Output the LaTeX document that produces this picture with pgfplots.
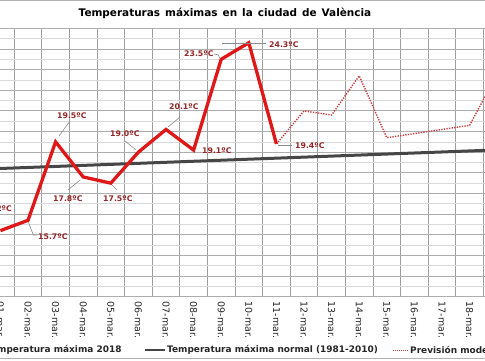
\documentclass[border=0pt]{standalone}
\usepackage{pgfplots}
\pgfplotsset{compat=1.18}
\usepackage{fontspec}
\setmainfont{DejaVu Sans}
\definecolor{redline}{RGB}{222,24,24}
\definecolor{normalc}{RGB}{70,70,70}
\definecolor{prevc}{RGB}{200,60,60}
\definecolor{labc}{RGB}{150,38,38}
\definecolor{leader}{RGB}{140,140,140}
\begin{document}
\begin{tikzpicture}[x=1bp,y=1bp]
\useasboundingbox (0,0) rectangle (485,360);
\fill[white] (0,0) rectangle (485,360);
\clip (0,0) rectangle (485,360);
\begin{axis}[
  at={(-13.4bp,63.3bp)}, anchor=south west,
  scale only axis, width=524.4bp, height=268.4bp,
  xmin=0.5, xmax=19.5, ymin=12, ymax=25,
  xtick={1,...,19},
  xticklabels={01-mar.,02-mar.,03-mar.,04-mar.,05-mar.,06-mar.,07-mar.,08-mar.,09-mar.,10-mar.,11-mar.,12-mar.,13-mar.,14-mar.,15-mar.,16-mar.,17-mar.,18-mar.,19-mar.},
  minor xtick={0.5,1.5,...,19.5},
  ytick={12,...,25}, minor ytick={12.5,13.5,...,24.5},
  yticklabels={},
  xmajorgrids=false, xminorgrids=true, ymajorgrids=true, yminorgrids=true,
  minor x grid style={black!38, line width=0.8bp},
  major y grid style={black!32, line width=0.8bp},
  minor y grid style={black!15, line width=0.6bp},
  major tick length=0pt, minor tick length=0pt,
  axis line style={draw=none},
  xticklabel style={rotate=-90, anchor=west, inner sep=0pt, text=black!85,
     font=\fontsize{9.5}{11}\selectfont},
  xticklabel shift=5bp,
  clip=true,
]
% normal 1981-2010
\addplot[normalc, line width=3bp] coordinates {
(0,18.16) (1,18.21) (2,18.26) (3,18.31) (4,18.36) (5,18.41) (6,18.46) (7,18.51)
(8,18.56) (9,18.61) (10,18.66) (11,18.71) (12,18.76) (13,18.81) (14,18.86)
(15,18.91) (16,18.96) (17,19.01) (18,19.06) (19,19.11) (20,19.16)};
% forecast
\addplot[prevc, line width=1.4bp, dash pattern=on 1.3bp off 1.3bp] coordinates {
(11,19.4) (12,21.0) (13,20.8) (14,22.7) (15,19.7) (16,19.9) (17,20.1) (18,20.3) (19,22.8)};
% 2018
\addplot[redline, line width=3.3bp, line join=miter] coordinates {
(1,15.2) (2,15.7) (3,19.5) (4,17.8) (5,17.5) (6,19.0) (7,20.1) (8,19.1) (9,23.5) (10,24.3) (11,19.4)};
% leader lines
\begin{scope}[leader, line width=0.6bp]
\draw (axis cs:2.011,15.62) -- (axis cs:2.192,14.99) -- (axis cs:2.308,14.99);
\draw (axis cs:3.123,19.78) -- (axis cs:3.522,20.51);
\draw (axis cs:3.884,17.65) -- (axis cs:3.449,17.17);
\draw (axis cs:5.043,17.41) -- (axis cs:5.225,17.17);
\draw (axis cs:5.514,19.54) -- (axis cs:5.913,19.11);
\draw (axis cs:7.072,20.22) -- (axis cs:7.507,20.70);
\draw (axis cs:8.739,23.76) -- (axis cs:8.884,23.71) -- (axis cs:8.957,23.56);
\draw (axis cs:9.043,24.29) -- (axis cs:10.623,24.29);
\draw (axis cs:11.058,19.35) -- (axis cs:11.565,19.35);
\end{scope}
\begin{scope}[every node/.style={inner sep=0pt, text=labc, font=\fontsize{7.8}{9}\selectfont\bfseries}]
\node[anchor=east] at (axis cs:1.42,16.25) {15.2ºC};
\node[anchor=west] at (axis cs:2.362,14.91) {15.7ºC};
\node[anchor=west] at (axis cs:3.051,20.77) {19.5ºC};
\node[anchor=west] at (axis cs:2.906,16.73) {17.8ºC};
\node[anchor=west] at (axis cs:4.717,16.73) {17.5ºC};
\node[anchor=west] at (axis cs:4.971,19.92) {19.0ºC};
\node[anchor=west] at (axis cs:7.109,21.20) {20.1ºC};
\node[anchor=west] at (axis cs:8.304,19.07) {19.1ºC};
\node[anchor=west] at (axis cs:7.652,23.76) {23.5ºC};
\node[anchor=west] at (axis cs:10.732,24.23) {24.3ºC};
\node[anchor=west] at (axis cs:11.674,19.31) {19.4ºC};
\end{scope}
\end{axis}
% title
\node[font=\fontsize{10.5}{12}\selectfont\bfseries, text=black] at (225,347) {\spaceskip=5bp Temperaturas máximas en la ciudad de València};
% legend
\begin{scope}[every node/.style={inner sep=0pt, anchor=west, font=\fontsize{9}{11}\selectfont\bfseries, text=black!85}]
\draw[redline, line width=2.5bp] (-40,10) -- (-16,10);
\node at (-14,10) {Temperatura máxima 2018};
\draw[normalc, line width=2.2bp] (145,10) -- (165,10);
\node at (167,10) {Temperatura máxima normal (1981-2010)};
\draw[prevc, line width=1bp, dash pattern=on 1bp off 1bp] (393,10) -- (408,10);
\node at (410,10) {Previsión modelo};
\end{scope}
\draw[black!30, line width=1bp] (0,359.3) -- (485,359.3);
\draw[black!30, line width=1bp] (0,1.6) -- (485,1.6);
\end{tikzpicture}
\end{document}
